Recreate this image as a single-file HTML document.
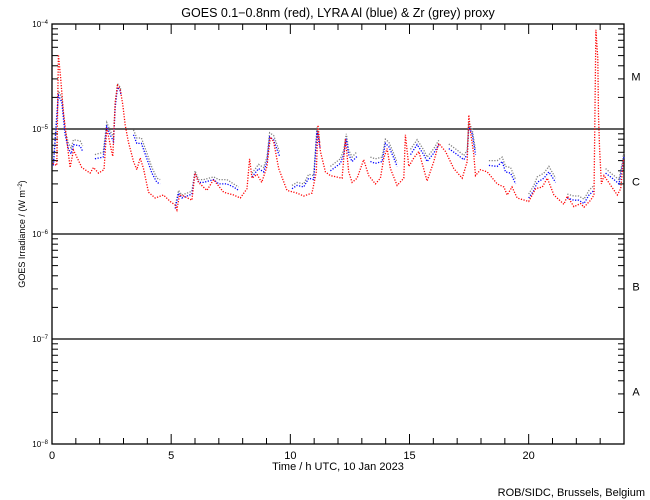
<!DOCTYPE html>
<html><head><meta charset="utf-8"><style>
body{margin:0;background:#fff;}
svg{display:block;font-family:"Liberation Sans",sans-serif;}
</style></head><body>
<svg id="chart" width="650" height="500" viewBox="0 0 650 500">
<rect width="650" height="500" fill="#fff"/>
<text x="338" y="17" font-size="12.5" text-anchor="middle">GOES 0.1−0.8nm (red), LYRA Al (blue) &amp; Zr (grey) proxy</text>
<text x="338" y="470" font-size="11" text-anchor="middle">Time / h UTC, 10 Jan 2023</text>
<text transform="translate(25,234) rotate(-90)" font-size="9" text-anchor="middle">GOES Irradiance / (W m<tspan baseline-shift="super" font-size="6">−2</tspan>)</text>
<text x="645" y="496" font-size="11" text-anchor="end">ROB/SIDC, Brussels, Belgium</text>
<g id="axes"></g>
<g id="series"></g>
</svg>
<script>
const redT=[0.03,0.2,0.27,0.36,0.48,0.59,0.76,0.9,1.25,1.6,1.74,1.95,2.18,2.3,2.5,2.55,2.65,2.75,2.86,2.97,3.07,3.2,3.42,3.56,3.7,3.84,4.05,4.33,4.68,4.96,5.17,5.24,5.35,5.52,5.87,6.0,6.15,6.5,6.78,7.2,7.62,7.9,8.18,8.29,8.39,8.6,8.8,9.02,9.16,9.3,9.51,9.86,10.28,10.56,10.91,11.09,11.16,11.26,11.47,11.68,12.17,12.31,12.45,12.59,12.8,13.08,13.29,13.57,13.78,13.92,14.06,14.2,14.48,14.76,14.83,14.97,15.18,15.39,15.74,16.02,16.23,16.51,16.86,17.21,17.42,17.49,17.56,17.7,17.77,17.98,18.26,18.68,18.96,19.1,19.3,19.52,20.0,20.29,20.57,20.78,21.06,21.48,21.62,21.9,22.18,22.32,22.6,22.74,22.82,22.9,22.93,22.97,23.05,23.16,23.44,23.72,23.86,23.98];
const redV=[4.7e-6,4.5e-6,5.1e-5,3.1e-5,1.45e-5,8.8e-6,4.3e-6,6.3e-6,4.3e-6,3.8e-6,4.3e-6,3.8e-6,4.1e-6,1.02e-5,6.1e-6,5.5e-6,1.8e-5,2.6e-5,2.4e-5,1.7e-5,1.09e-5,7.6e-6,4.9e-6,4.1e-6,5.3e-6,4.2e-6,2.5e-6,2.2e-6,2.35e-6,2.04e-6,1.89e-6,1.7e-6,2.35e-6,2.3e-6,2.1e-6,3.8e-6,3.1e-6,2.6e-6,3.3e-6,2.5e-6,2.35e-6,2.2e-6,2.7e-6,5.2e-6,3.4e-6,3.7e-6,3.1e-6,4.4e-6,8.4e-6,7.6e-6,4.2e-6,2.6e-6,2.45e-6,2.3e-6,2.45e-6,3.9e-6,1.09e-5,6.1e-6,3.9e-6,3.6e-6,3.4e-6,8.1e-6,3.9e-6,3.1e-6,3.4e-6,5.1e-6,3.6e-6,3.0e-6,3.4e-6,5.3e-6,6.5e-6,4.2e-6,2.9e-6,3.4e-6,8.8e-6,4.4e-6,5.3e-6,6.1e-6,3.2e-6,4.9e-6,7.3e-6,6.1e-6,4.2e-6,3.4e-6,4.9e-6,1.36e-5,9.4e-6,5.7e-6,3.6e-6,4.1e-6,3.9e-6,3.0e-6,2.8e-6,2.35e-6,2.8e-6,2.2e-6,2.04e-6,2.7e-6,2.8e-6,3.4e-6,2.35e-6,1.92e-6,2.3e-6,1.82e-6,1.95e-6,1.8e-6,2.1e-6,2.35e-6,8.8e-5,4.7e-5,1.36e-5,6.8e-6,3.0e-6,3.6e-6,2.9e-6,2.35e-6,2.7e-6,5.2e-6];
const blueT=[0.06,0.27,0.41,0.55,0.69,0.8,0.9,1.18,1.29,null,1.8,2.15,2.3,2.44,2.58,2.65,2.75,2.86,2.9,null,3.42,3.56,3.75,3.98,4.19,4.4,4.54,null,5.17,5.31,5.45,5.87,6.0,6.15,6.36,6.78,7.0,7.34,7.62,7.83,null,8.39,8.67,8.88,9.02,9.13,9.3,9.47,9.55,null,10.07,10.28,10.56,10.77,10.98,11.12,11.24,null,11.68,12.1,12.24,12.35,12.45,12.59,12.8,null,13.36,13.57,13.85,13.99,14.13,14.34,14.48,null,15.04,15.32,15.6,15.74,16.02,16.23,null,16.65,17.0,17.28,17.42,17.49,17.63,17.77,null,18.33,18.68,18.89,19.03,19.24,19.45,null,20.0,20.22,20.36,20.64,20.85,21.13,null,21.62,21.9,22.1,22.32,22.53,22.74,null,23.23,23.51,23.79,23.93,24.0];
const blueV=[4.5e-6,2.1e-5,1.8e-5,8.8e-6,6.5e-6,5.8e-6,7.1e-6,6.9e-6,6.1e-6,null,5.2e-6,5.4e-6,1.05e-5,8.8e-6,7.6e-6,1.6e-5,2.5e-5,2.3e-5,2.1e-5,null,8.8e-6,7.3e-6,7.3e-6,5.2e-6,3.8e-6,3.1e-6,3.0e-6,null,1.75e-6,2.45e-6,2.2e-6,2.4e-6,3.8e-6,3.1e-6,3.1e-6,3.3e-6,3.0e-6,3.0e-6,2.8e-6,2.6e-6,null,3.5e-6,4.2e-6,3.9e-6,4.9e-6,8.4e-6,7.9e-6,6.1e-6,5.5e-6,null,2.7e-6,2.9e-6,2.8e-6,3.4e-6,3.3e-6,9.5e-6,6.7e-6,null,4.0e-6,4.7e-6,5.7e-6,8.1e-6,5.7e-6,4.9e-6,5.5e-6,null,4.9e-6,4.7e-6,4.9e-6,7.3e-6,6.8e-6,5.3e-6,4.4e-6,null,5.7e-6,7.1e-6,5.7e-6,4.9e-6,5.9e-6,7.1e-6,null,6.5e-6,5.7e-6,5.1e-6,5.7e-6,1.05e-5,9.0e-6,5.7e-6,null,4.5e-6,4.4e-6,4.9e-6,3.9e-6,3.8e-6,3.0e-6,null,2.2e-6,2.6e-6,3.1e-6,3.4e-6,3.9e-6,3.1e-6,null,2.2e-6,2.1e-6,2.1e-6,1.95e-6,2.35e-6,2.6e-6,null,3.8e-6,3.4e-6,3.0e-6,4.4e-6,5.5e-6];
const greyV=[4.8e-6,2.3e-5,2.0e-5,9.8e-6,7.3e-6,6.6e-6,7.9e-6,7.7e-6,6.9e-6,null,5.7e-6,6.0e-6,1.15e-5,9.6e-6,8.4e-6,1.75e-5,2.7e-5,2.5e-5,2.3e-5,null,9.8e-6,8.2e-6,8.2e-6,5.9e-6,4.3e-6,3.4e-6,3.3e-6,null,1.85e-6,2.6e-6,2.35e-6,2.55e-6,4.0e-6,3.3e-6,3.3e-6,3.5e-6,3.3e-6,3.3e-6,3.0e-6,2.8e-6,null,3.8e-6,4.6e-6,4.3e-6,5.4e-6,9.2e-6,8.7e-6,6.8e-6,6.0e-6,null,2.9e-6,3.1e-6,3.0e-6,3.7e-6,3.6e-6,1.05e-5,7.3e-6,null,4.4e-6,5.2e-6,6.3e-6,9.0e-6,6.3e-6,5.4e-6,6.1e-6,null,5.4e-6,5.2e-6,5.4e-6,8.0e-6,7.5e-6,5.8e-6,4.8e-6,null,6.4e-6,7.9e-6,6.3e-6,5.4e-6,6.5e-6,7.8e-6,null,7.2e-6,6.3e-6,5.6e-6,6.3e-6,1.15e-5,9.9e-6,6.3e-6,null,5.0e-6,5.0e-6,5.4e-6,4.4e-6,4.3e-6,3.3e-6,null,2.4e-6,2.9e-6,3.5e-6,3.8e-6,4.4e-6,3.4e-6,null,2.4e-6,2.3e-6,2.3e-6,2.15e-6,2.6e-6,2.9e-6,null,4.2e-6,3.7e-6,3.3e-6,4.8e-6,6.1e-6];
const xTickLabels=["0","5","10","15","20"];
const yDecades=[-8,-7,-6,-5,-4];
const classLabels=["A","B","C","M"];

const X0=52,X1=624,Y0=444,DEC=105;
const NS="http://www.w3.org/2000/svg";
function xs(t){return X0+(X1-X0)*t/24;}
function ys(v){return Y0-(Math.log10(v)+8)*DEC;}
function mk(tag,attrs,parent){const e=document.createElementNS(NS,tag);for(const k in attrs)e.setAttribute(k,attrs[k]);parent.appendChild(e);return e;}
const ax=document.getElementById('axes');
const frame=mk('rect',{x:X0,y:ys(1e-4),width:X1-X0,height:Y0-ys(1e-4),fill:'none',stroke:'#000','stroke-width':1.3},ax);


for(let h=0;h<=24;h++){
  const L=h%5===0?10:6;
  const tb=mk('line',{x1:xs(h),x2:xs(h),y1:Y0,y2:Y0-L,stroke:'#000'},ax);
  
  
  const tt=mk('line',{x1:xs(h),x2:xs(h),y1:ys(1e-4),y2:ys(1e-4)+L,stroke:'#000'},ax);
  
  
}
xTickLabels.forEach(s=>{
  const t=mk('text',{x:xs(+s),y:Y0+15,'font-size':11,'text-anchor':'middle'},ax);t.textContent=s;
  
  
});
yDecades.forEach((d,i)=>{
  const y=ys(Math.pow(10,d));
  const t=mk('text',{x:X0-4,y:y+3,'font-size':8,'text-anchor':'end'},ax);
  t.textContent='10';
  const sp=mk('tspan',{'baseline-shift':'super','font-size':6},t);sp.textContent='−'+(-d);
  
  
  if(d>-8&&d<-4){
    const g=mk('line',{x1:X0,x2:X1,y1:y,y2:y,stroke:'#000','stroke-width':1.2},ax);
    
    
  }
  if(d<-4){
    for(let m=2;m<=9;m++){
      const yy=ys(m*Math.pow(10,d));
      const l1=mk('line',{x1:X0,x2:X0+6,y1:yy,y2:yy,stroke:'#000'},ax);
      
      
      const l2=mk('line',{x1:X1,x2:X1-6,y1:yy,y2:yy,stroke:'#000'},ax);
      
      
    }
    const c=mk('text',{x:636,y:ys(Math.pow(10,d+0.5))+4,'font-size':11,'text-anchor':'middle'},ax);
    c.textContent=classLabels[i];
    
    
  }
});
const se=document.getElementById('series');
function draw(T,V,color,name){
  let d='';let pen=false;
  for(let i=0;i<T.length;i++){
    if(T[i]===null||V[i]===null){pen=false;continue;}
    d+=(pen?'L':'M')+xs(T[i]).toFixed(1)+' '+ys(V[i]).toFixed(1);pen=true;
  }
  const p=mk('path',{d:d,fill:'none',stroke:color,'stroke-width':1.3,'stroke-dasharray':'1.2 1.5'},se);
  
  
}
draw(blueT,greyV,'#808080','lyra-zr-series');
draw(blueT,blueV,'#0000ff','lyra-al-series');
draw(redT,redV,'#ff0000','goes-series');
</script>
</body></html>
